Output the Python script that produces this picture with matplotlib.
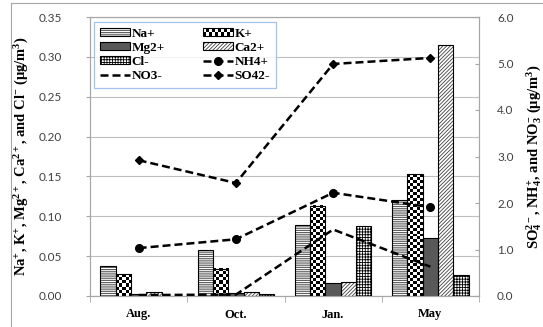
import matplotlib
matplotlib.use('Agg')
import matplotlib.pyplot as plt
import numpy as np
from matplotlib.lines import Line2D
from matplotlib.patches import Rectangle
from matplotlib.legend_handler import HandlerBase, HandlerTuple
from matplotlib.ticker import MultipleLocator, FormatStrFormatter

months = ['Aug.', 'Oct.', 'Jan.', 'May']
# left axis (ug/m3)
na = [0.038, 0.058, 0.089, 0.120]
k = [0.027, 0.034, 0.113, 0.153]
mg = [0.003, 0.004, 0.016, 0.073]
ca = [0.005, 0.005, 0.018, 0.315]
cl = [0.0, 0.003, 0.088, 0.026]
# right axis (ug/m3)
nh4 = [1.03, 1.22, 2.22, 1.91]
no3 = [0.02, 0.03, 1.43, 0.63]
so4 = [2.92, 2.43, 4.99, 5.12]

plt.rcParams['mathtext.fontset'] = 'custom'
plt.rcParams['mathtext.rm'] = 'Liberation Serif:bold'
plt.rcParams['mathtext.it'] = 'Liberation Serif:bold:italic'
plt.rcParams['mathtext.bf'] = 'Liberation Serif:bold'
plt.rcParams['hatch.linewidth'] = 0.6

serif = dict(family='Liberation Serif', weight='bold')
tick_font = 'Lato'
grey = '#a6a6a6'
label_col = '#404040'


class CheckerHandler(HandlerBase):
    # legend key for the chequered K+ bars
    def create_artists(self, legend, orig_handle, xdescent, ydescent,
                       width, height, fontsize, trans):
        arts = [Rectangle((-xdescent, -ydescent), width, height,
                          facecolor='white', edgecolor='none', transform=trans)]
        nx, ny = 10, 2
        cw, ch = width / nx, height / ny
        for i in range(nx):
            for j in range(ny):
                if (i + j) % 2 == 0:
                    arts.append(Rectangle((-xdescent + i * cw, -ydescent + j * ch), cw, ch,
                                          facecolor='black', edgecolor='none', transform=trans))
        arts.append(Rectangle((-xdescent, -ydescent), width, height, fill=False,
                              edgecolor='black', lw=0.8, transform=trans))
        return arts


fig = plt.figure(figsize=(5.43, 3.27), dpi=100)
ax1 = fig.add_axes([90 / 543, 1 - 296 / 327, 389 / 543, 279 / 327])
ax2 = ax1.twinx()

x = np.arange(len(months))
bw = 0.157
ax1.set_xlim(-0.5, 3.5)
ax1.set_ylim(0, 0.35)
ax2.set_ylim(0, 6)

# hatched bars: fill/hatch first, black outline on top
def hatched(vals, pos, hatch, hcol, face='white'):
    h = ax1.bar(x + pos, vals, bw, color=face, edgecolor=hcol, hatch=hatch, lw=0, zorder=2)
    o = ax1.bar(x + pos, vals, bw, fill=False, edgecolor='black', lw=0.8, zorder=4)
    return (h[0], o[0])

h_na = hatched(na, -2 * bw, '-' * 9, '#404040')
h_mg = hatched(mg, 0, None, 'black', face='#595959')
h_ca = hatched(ca, bw, '/' * 9, '#404040')
h_cl = hatched(cl, 2 * bw, '+' * 6, 'black')

# K+ bars with a chequerboard fill
k_out = ax1.bar(x - bw, k, bw, fill=False, edgecolor='black', lw=0.8, zorder=4)
px_per_unit = ax1.transData.transform((0, 1))[1] - ax1.transData.transform((0, 0))[1]
for xi, v in zip(x - bw, k):
    rows = max(1, int(round(v * px_per_unit / 3)))
    board = (np.add.outer(np.arange(rows), np.arange(5)) % 2).astype(float)
    ax1.imshow(board, cmap='gray', extent=(xi - bw / 2, xi + bw / 2, 0, v),
               origin='lower', interpolation='nearest', aspect='auto', zorder=3)
ax1.set_xlim(-0.5, 3.5)
ax1.set_ylim(0, 0.35)

dash = (0, (3.2, 1.6))
l_nh4, = ax2.plot(x, nh4, color='black', lw=1.8, linestyle=dash, marker='o', markersize=5.5)
l_no3, = ax2.plot(x, no3, color='black', lw=1.8, linestyle=dash)
l_so4, = ax2.plot(x, so4, color='black', lw=1.8, linestyle=dash, marker='D', markersize=4.3)

# grid and frame
ax1.yaxis.set_major_locator(MultipleLocator(0.05))
ax1.yaxis.set_major_formatter(FormatStrFormatter('%.2f'))
ax1.grid(axis='y', color='#bfbfbf', lw=0.8)
ax1.set_axisbelow(True)
for ax in (ax1, ax2):
    for s in ax.spines.values():
        s.set_color(grey)
        s.set_linewidth(0.8)

ax1.set_xticks(x)
ax1.set_xticklabels(months, fontdict=dict(size=9, **serif))
ax1.tick_params(axis='x', which='major', length=0, pad=9)
ax1.set_xticks(np.arange(-0.5, 4, 1), minor=True)
ax1.tick_params(axis='x', which='minor', length=4, color=grey, direction='out')

ax1.tick_params(axis='y', length=3, color=grey, direction='out', pad=17,
                labelsize=8.5, labelcolor=label_col)
ax2.yaxis.set_major_locator(MultipleLocator(1))
ax2.yaxis.set_major_formatter(FormatStrFormatter('%.1f'))
ax2.tick_params(axis='y', length=3, color=grey, direction='in', pad=13,
                labelsize=8.5, labelcolor=label_col)
for lab in ax1.get_yticklabels() + ax2.get_yticklabels():
    lab.set_family(tick_font)

ax1.set_ylabel('Na$^{+}$, K$^{+}$, Mg$^{2+}$, Ca$^{2+}$, and Cl$^{-}$ (\u03bcg/m$^{3}$)',
               fontdict=dict(size=10.5, **serif))
ax1.yaxis.set_label_coords(-0.152, 0.5)
ax2.set_ylabel('SO$_{4}^{2-}$, NH$_{4}^{+}$, and NO$_{3}^{-}$ (\u03bcg/m$^{3}$)',
               fontdict=dict(size=10.5, **serif), rotation=90)
ax2.yaxis.set_label_coords(1.118, 0.5)

handles = [h_na, h_mg, h_cl, l_no3, k_out[0], h_ca, l_nh4, l_so4]
labels = ['Na+', 'Mg2+', 'Cl-', 'NO3-', 'K+', 'Ca2+', 'NH4+', 'SO42-']
leg = ax2.legend(handles, labels, ncol=2, loc='upper left', bbox_to_anchor=(0.01, 0.982),
                 borderaxespad=0, prop=dict(size=9.5, **serif), frameon=True, fancybox=False,
                 handlelength=2.3, handleheight=0.55, handletextpad=0.1, labelspacing=0.15,
                 columnspacing=2.9, borderpad=0.45,
                 handler_map={tuple: HandlerTuple(ndivide=1),
                              k_out[0]: CheckerHandler()})
leg.get_frame().set_edgecolor('#8eb4e3')
leg.get_frame().set_linewidth(0.9)

# outer chart border
fig.add_artist(Line2D([11 / 543, 11 / 543], [0, 1 - 3 / 327], color=grey, lw=0.8))
fig.add_artist(Line2D([11 / 543, 1], [1 - 3 / 327, 1 - 3 / 327], color=grey, lw=0.8))

fig.savefig('out.png', dpi=100)
